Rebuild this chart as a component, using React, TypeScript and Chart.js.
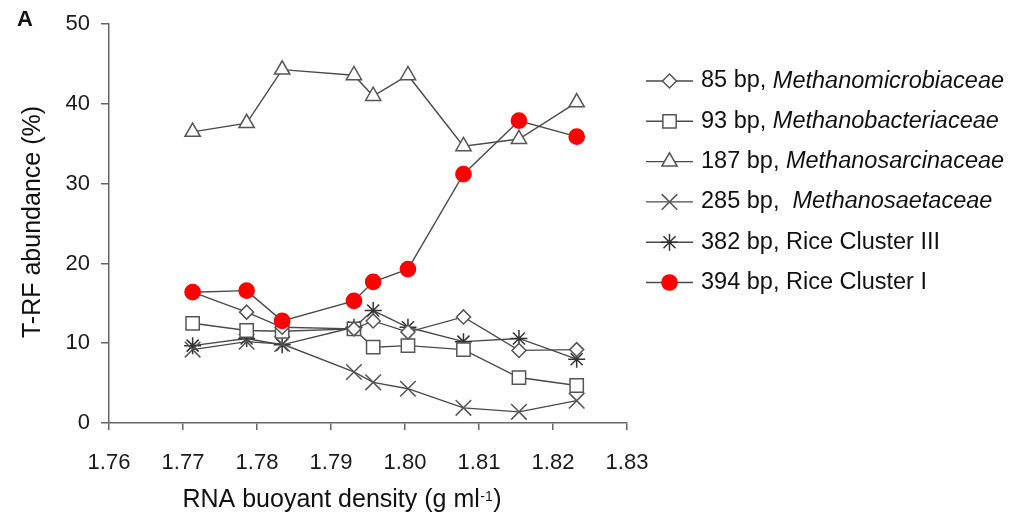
import React, { useEffect, useRef } from 'react';
import { Chart, registerables } from 'chart.js';
import { drawPoint } from 'chart.js/helpers';

Chart.register(...registerables);

// ---- data ----
const density = [1.7713, 1.7786, 1.7834, 1.7931, 1.7957, 1.8004, 1.8079, 1.8154, 1.8232];
const bp85 = [16.4, 13.9, 12.0, 11.8, 12.8, 11.4, 13.3, 9.1, 9.2];
const bp93 = [12.5, 11.6, 11.5, 11.8, 9.5, 9.7, 9.2, 5.7, 4.7];
const bp187 = [36.5, 37.6, 44.3, 43.6, 41.0, 43.6, 34.7, 35.6, 40.2];
const bp285 = [9.2, 10.2, 9.9, 6.4, 5.1, 4.3, 1.9, 1.4, 2.8];
const bp382 = [9.7, 10.6, 9.8, 12.0, 14.1, 12.0, 10.2, 10.6, 8.0];
const bp394 = [16.4, 16.6, 12.8, 15.3, 17.7, 19.3, 31.2, 37.9, 35.9];

const seriesPrefix = ['85 bp, ', '93 bp, ', '187 bp, ', '285 bp,  ', '382 bp, Rice Cluster III', '394 bp, Rice Cluster I'];
const seriesItalic = ['Methanomicrobiaceae', 'Methanobacteriaceae', 'Methanosarcinaceae', 'Methanosaetaceae', '', ''];

const xMin = 1.76;
const xMax = 1.83;
const xStep = 0.01;
const yMin = 0;
const yMax = 50;
const yStep = 10;

const panelLabel = 'A';
const yTitle = 'T-RF abundance (%)';
const xTitleMain = 'RNA buoyant density (g ml';
const xTitleSup = '-1';
const xTitleEnd = ')';

const FONT = '"Liberation Sans", Arial, Helvetica, sans-serif';
const LINE = '#4a4a4a';
const MARK = '#555555';

function pts(vals: number[]) {
  return density.map((x, i) => ({ x, y: vals[i] }));
}

function makeDataset(label: string, vals: number[], style: string, radius: number, fill: string, stroke: string, order: number) {
  return {
    label,
    data: pts(vals),
    showLine: true,
    borderColor: LINE,
    borderWidth: 1.4,
    pointStyle: style,
    pointRadius: radius,
    pointHoverRadius: radius,
    pointBackgroundColor: fill,
    pointBorderColor: stroke,
    pointBorderWidth: 1.5,
    tension: 0,
    fill: false,
    order,
  };
}

const decorPlugin = {
  id: 'decor',
  afterDraw(chart: any) {
    const ctx: CanvasRenderingContext2D = chart.ctx;
    ctx.save();
    ctx.fillStyle = '#111111';

    // panel label
    ctx.font = `bold 22px ${FONT}`;
    ctx.textAlign = 'left';
    ctx.textBaseline = 'alphabetic';
    ctx.fillText(panelLabel, 17, 26);

    // y title
    ctx.save();
    ctx.translate(40, 222);
    ctx.rotate(-Math.PI / 2);
    ctx.font = `25px ${FONT}`;
    ctx.textAlign = 'center';
    ctx.fillText(yTitle, 0, 0);
    ctx.restore();

    // x title with superscript
    ctx.font = `25px ${FONT}`;
    const w1 = ctx.measureText(xTitleMain).width;
    const w3 = ctx.measureText(xTitleEnd).width;
    ctx.font = `14px ${FONT}`;
    const w2 = ctx.measureText(xTitleSup).width;
    const total = w1 + w2 + w3 + 1;
    let x = 342 - total / 2;
    const base = 507;
    ctx.textAlign = 'left';
    ctx.font = `25px ${FONT}`;
    ctx.fillText(xTitleMain, x, base);
    x += w1 + 0.5;
    ctx.font = `14px ${FONT}`;
    ctx.fillText(xTitleSup, x, base - 6);
    x += w2 + 0.5;
    ctx.font = `25px ${FONT}`;
    ctx.fillText(xTitleEnd, x, base);

    // legend
    chart.data.datasets.forEach((ds: any, i: number) => {
      const y = 81 + 40.3 * i;
      ctx.strokeStyle = LINE;
      ctx.lineWidth = 1.4;
      ctx.beginPath();
      ctx.moveTo(646, y);
      ctx.lineTo(693, y);
      ctx.stroke();
      ctx.fillStyle = ds.pointBackgroundColor;
      ctx.strokeStyle = ds.pointBorderColor;
      ctx.lineWidth = ds.pointBorderWidth;
      drawPoint(ctx, { pointStyle: ds.pointStyle, rotation: 0, radius: ds.pointRadius, borderWidth: ds.pointBorderWidth } as any, 669.5, y);
      ctx.fillStyle = '#111111';
      ctx.textBaseline = 'middle';
      ctx.textAlign = 'left';
      ctx.font = `23.5px ${FONT}`;
      const pre = seriesPrefix[i];
      ctx.fillText(pre, 701, y);
      const pw = ctx.measureText(pre).width;
      if (seriesItalic[i]) {
        ctx.font = `italic 23.5px ${FONT}`;
        ctx.fillText(seriesItalic[i], 701 + pw, y);
      }
    });
    ctx.restore();
  },
};

export default function App() {
  const ref = useRef<HTMLCanvasElement | null>(null);
  useEffect(() => {
    if (!ref.current) return;
    const datasets = [
      makeDataset(seriesPrefix[0] + seriesItalic[0], bp85, 'rectRot', 7, '#ffffff', MARK, 2),
      makeDataset(seriesPrefix[1] + seriesItalic[1], bp93, 'rect', 9.4, '#ffffff', MARK, 2),
      makeDataset(seriesPrefix[2] + seriesItalic[2], bp187, 'triangle', 8.8, '#ffffff', MARK, 2),
      makeDataset(seriesPrefix[3] + seriesItalic[3], bp285, 'crossRot', 11, '#ffffff', MARK, 2),
      makeDataset(seriesPrefix[4] + seriesItalic[4], bp382, 'star', 8.5, '#ffffff', '#333333', 2),
      makeDataset(seriesPrefix[5] + seriesItalic[5], bp394, 'circle', 7.6, '#ff0000', '#ff0000', 0),
    ];
    const chart = new Chart(ref.current, {
      type: 'line',
      data: { datasets } as any,
      plugins: [decorPlugin],
      options: {
        responsive: false,
        animation: false,
        devicePixelRatio: 1,
        layout: { padding: { left: 0, right: 383, top: 24, bottom: 0 } },
        plugins: { legend: { display: false }, tooltip: { enabled: false }, title: { display: false } },
        scales: {
          x: {
            type: 'linear',
            min: xMin,
            max: xMax,
            afterFit: (s: any) => { s.height = 98; },
            grid: { display: true, drawOnChartArea: false, drawTicks: true, tickLength: 7, color: '#666666', lineWidth: 1.5 },
            border: { display: true, color: '#666666', width: 1.5 },
            ticks: {
              stepSize: xStep,
              maxRotation: 0,
              autoSkip: false,
              padding: 20,
              color: '#1a1a1a',
              font: { family: FONT, size: 22 },
              callback: (v: any) => Number(v).toFixed(2),
            },
          },
          y: {
            type: 'linear',
            min: yMin,
            max: yMax,
            afterFit: (s: any) => { s.width = 109; },
            grid: { display: true, drawOnChartArea: false, drawTicks: true, tickLength: 8, color: '#666666', lineWidth: 1.5 },
            border: { display: true, color: '#666666', width: 1.5 },
            ticks: {
              stepSize: yStep,
              padding: 11,
              color: '#1a1a1a',
              font: { family: FONT, size: 22 },
            },
          },
        },
      } as any,
    });
    return () => chart.destroy();
  }, []);
  return (
    <div style={{ position: 'fixed', left: 0, top: 0, width: 1010, height: 521, background: '#ffffff' }}>
      <canvas ref={ref} width={1010} height={521} style={{ display: 'block', width: 1010, height: 521 }} />
    </div>
  );
}
